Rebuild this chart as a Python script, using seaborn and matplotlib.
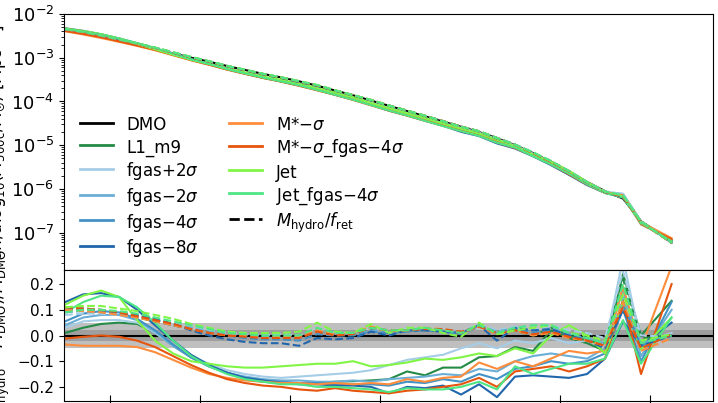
import matplotlib
matplotlib.use('Agg')
import matplotlib.pyplot as plt
import numpy as np
import seaborn as sns
from matplotlib.lines import Line2D

# halo mass bins (log10 M500c) and DMO mass function (log10 dn/dlogM)
x_logm = [12.25, 12.35, 12.45, 12.55, 12.65, 12.75, 12.85, 12.95, 13.05, 13.15,
          13.25, 13.35, 13.45, 13.55, 13.65, 13.75, 13.85, 13.95, 14.05, 14.15,
          14.25, 14.35, 14.45, 14.55, 14.65, 14.75, 14.85, 14.95, 15.05, 15.15,
          15.25, 15.35, 15.45, 15.62]
dmo_log10 = [-2.38, -2.45, -2.53, -2.62, -2.71, -2.80, -2.90, -3.00, -3.09, -3.19,
             -3.28, -3.37, -3.45, -3.54, -3.64, -3.75, -3.86, -3.98, -4.10, -4.22,
             -4.34, -4.46, -4.58, -4.70, -4.84, -5.00, -5.18, -5.38, -5.60, -5.84,
             -6.05, -6.22, -6.74, -7.23]

# relative difference (M_hydro - M_DMO)/M_DMO, hydro runs
res_l1_m9 = [0.01, 0.03, 0.045, 0.05, 0.045, 0.01, -0.04, -0.085, -0.12, -0.145,
             -0.17, -0.18, -0.185, -0.188, -0.185, -0.18, -0.178, -0.175, -0.17, -0.14,
             -0.155, -0.125, -0.125, -0.085, -0.08, -0.045, -0.06, 0.02, -0.01, -0.03,
             -0.06, 0.24, 0.0, 0.135]
res_fgas_p2 = [0.03, 0.055, 0.06, 0.06, 0.05, 0.01, -0.04, -0.08, -0.11, -0.135,
               -0.15, -0.16, -0.165, -0.16, -0.155, -0.15, -0.145, -0.135, -0.115, -0.095,
               -0.085, -0.075, -0.05, -0.03, -0.05, -0.02, -0.03, -0.01, -0.03, -0.02,
               -0.04, 0.30, -0.03, 0.01]
res_fgas_m2 = [0.04, 0.07, 0.08, 0.08, 0.06, 0.015, -0.04, -0.085, -0.12, -0.145,
               -0.16, -0.17, -0.175, -0.175, -0.18, -0.18, -0.175, -0.18, -0.17, -0.165,
               -0.16, -0.15, -0.155, -0.13, -0.14, -0.10, -0.08, -0.07, -0.08, -0.09,
               -0.05, 0.18, -0.08, 0.10]
res_fgas_m4 = [0.055, 0.085, 0.095, 0.09, 0.065, 0.02, -0.035, -0.085, -0.12, -0.145,
               -0.165, -0.175, -0.18, -0.185, -0.185, -0.19, -0.19, -0.19, -0.195, -0.18,
               -0.185, -0.17, -0.18, -0.15, -0.17, -0.13, -0.12, -0.10, -0.11, -0.10,
               -0.07, 0.10, -0.10, 0.13]
res_fgas_m8 = [0.13, 0.16, 0.165, 0.15, 0.10, 0.04, -0.02, -0.075, -0.115, -0.145,
               -0.165, -0.175, -0.185, -0.19, -0.19, -0.195, -0.195, -0.20, -0.225, -0.20,
               -0.205, -0.195, -0.23, -0.19, -0.24, -0.16, -0.155, -0.16, -0.165, -0.15,
               -0.09, 0.055, -0.04, 0.05]
res_mstar_m = [-0.035, -0.04, -0.04, -0.04, -0.045, -0.065, -0.095, -0.125, -0.15, -0.165,
               -0.175, -0.18, -0.185, -0.185, -0.19, -0.185, -0.19, -0.185, -0.19, -0.17,
               -0.18, -0.165, -0.16, -0.105, -0.13, -0.10, -0.12, -0.09, -0.06, -0.07,
               -0.06, 0.19, -0.05, 0.27]
res_mstar_fgas = [-0.012, -0.005, 0.0, -0.005, -0.02, -0.045, -0.08, -0.115, -0.145, -0.17,
                  -0.185, -0.195, -0.20, -0.21, -0.215, -0.205, -0.215, -0.22, -0.225, -0.215,
                  -0.21, -0.20, -0.19, -0.165, -0.20, -0.14, -0.13, -0.12, -0.14, -0.12,
                  -0.09, 0.14, -0.15, 0.20]
res_jet = [0.12, 0.155, 0.175, 0.15, 0.06, -0.02, -0.07, -0.10, -0.11, -0.12,
           -0.125, -0.125, -0.12, -0.115, -0.11, -0.11, -0.10, -0.12, -0.115, -0.105,
           -0.09, -0.095, -0.085, -0.07, -0.08, -0.05, -0.07, 0.0, 0.04, 0.0,
           -0.07, 0.13, -0.055, 0.07]
res_jet_fgas = [0.09, 0.13, 0.155, 0.15, 0.11, 0.05, -0.02, -0.08, -0.12, -0.15,
                -0.17, -0.18, -0.19, -0.19, -0.20, -0.20, -0.205, -0.21, -0.22, -0.205,
                -0.21, -0.21, -0.20, -0.18, -0.21, -0.12, -0.15, -0.13, -0.11, -0.11,
                -0.09, 0.06, -0.11, 0.07]

# same, after correcting hydro masses by retained fraction (M_hydro / f_ret)
ret_l1_m9 = [0.10, 0.10, 0.095, 0.085, 0.07, 0.055, 0.04, 0.025, 0.01, 0.005,
             0.0, -0.005, 0.0, 0.0, 0.02, 0.005, 0.01, 0.025, 0.01, 0.02,
             0.025, 0.02, 0.005, 0.04, 0.01, 0.02, 0.0, 0.03, 0.0, -0.02,
             -0.03, 0.22, -0.01, 0.0]
ret_fgas_p2 = [0.08, 0.085, 0.085, 0.08, 0.07, 0.06, 0.045, 0.03, 0.02, 0.01,
               0.005, 0.0, 0.005, 0.0, 0.025, 0.01, 0.01, 0.03, 0.015, 0.025,
               0.03, 0.025, 0.015, 0.045, 0.02, 0.035, 0.02, 0.04, 0.02, 0.01,
               -0.01, 0.25, 0.0, -0.005]
ret_fgas_m2 = [0.09, 0.095, 0.09, 0.085, 0.075, 0.06, 0.045, 0.03, 0.015, 0.005,
               0.0, -0.005, -0.005, -0.01, 0.015, 0.005, 0.005, 0.02, 0.015, 0.02,
               0.025, 0.015, 0.01, 0.04, 0.015, 0.03, 0.01, 0.03, 0.005, -0.01,
               -0.03, 0.15, -0.03, 0.0]
ret_fgas_m4 = [0.10, 0.10, 0.095, 0.09, 0.075, 0.06, 0.04, 0.025, 0.01, 0.0,
               -0.01, -0.015, -0.015, -0.02, 0.005, 0.0, 0.0, 0.015, 0.01, 0.015,
               0.02, 0.015, 0.005, 0.035, 0.01, 0.025, 0.01, 0.02, 0.0, -0.015,
               -0.04, 0.12, -0.04, 0.005]
ret_fgas_m8 = [0.11, 0.105, 0.10, 0.09, 0.08, 0.065, 0.045, 0.02, 0.0, -0.015,
               -0.025, -0.03, -0.03, -0.04, -0.01, -0.015, -0.01, 0.015, 0.0, 0.02,
               0.02, 0.015, 0.01, 0.04, -0.02, 0.03, 0.02, 0.025, 0.0, -0.02,
               -0.05, 0.10, -0.04, 0.0]
ret_mstar_m = [0.10, 0.095, 0.09, 0.08, 0.07, 0.055, 0.04, 0.025, 0.01, 0.0,
               0.0, -0.01, -0.005, -0.005, 0.02, 0.005, 0.01, 0.035, 0.015, 0.02,
               0.03, 0.025, 0.01, 0.035, 0.005, 0.02, 0.0, 0.01, -0.01, -0.02,
               -0.04, 0.13, -0.06, -0.01]
ret_mstar_fgas = [0.11, 0.105, 0.10, 0.09, 0.075, 0.06, 0.045, 0.025, 0.01, 0.0,
                  -0.005, -0.01, -0.01, -0.01, 0.015, 0.0, 0.005, 0.03, 0.02, 0.02,
                  0.025, 0.025, 0.015, 0.035, 0.01, 0.02, 0.005, 0.015, -0.005, -0.02,
                  -0.04, 0.11, -0.05, 0.005]
ret_jet = [0.11, 0.115, 0.115, 0.105, 0.095, 0.08, 0.065, 0.045, 0.03, 0.015,
           0.01, 0.01, 0.01, 0.015, 0.05, 0.015, 0.01, 0.045, 0.01, 0.03,
           0.03, 0.01, -0.005, 0.05, 0.005, 0.02, 0.03, 0.04, 0.01, 0.0,
           -0.02, 0.16, -0.02, 0.005]
ret_jet_fgas = [0.09, 0.10, 0.10, 0.095, 0.085, 0.07, 0.055, 0.04, 0.025, 0.01,
                0.005, 0.0, 0.0, 0.0, 0.03, 0.01, 0.01, 0.03, 0.02, 0.02,
                0.03, 0.02, 0.01, 0.04, 0.01, 0.03, 0.04, 0.04, 0.01, -0.01,
                -0.03, 0.20, -0.03, 0.0]

labels = ['L1_m9', 'fgas+2$\\sigma$', 'fgas\u22122$\\sigma$', 'fgas\u22124$\\sigma$',
          'fgas\u22128$\\sigma$', 'M*\u2212$\\sigma$', 'M*\u2212$\\sigma$_fgas\u22124$\\sigma$',
          'Jet', 'Jet_fgas\u22124$\\sigma$']
colors = ['#238b45', '#a6cde6', '#6baed6', '#4292c6', '#2166ac',
          '#fd8d3c', '#e6550d', '#80f545', '#4ee685']
res_solid = [res_l1_m9, res_fgas_p2, res_fgas_m2, res_fgas_m4, res_fgas_m8,
             res_mstar_m, res_mstar_fgas, res_jet, res_jet_fgas]
res_ret = [ret_l1_m9, ret_fgas_p2, ret_fgas_m2, ret_fgas_m4, ret_fgas_m8,
           ret_mstar_m, ret_mstar_fgas, ret_jet, ret_jet_fgas]

x = np.array(x_logm)
n_dmo = 10 ** np.array(dmo_log10)

W, H = 718, 403
fig = plt.figure(figsize=(W / 100, H / 100), dpi=100)
ax_top = fig.add_axes([64 / W, 133 / H, 649 / W, 256 / H])
ax_bot = fig.add_axes([64 / W, 2 / H, 649 / W, 131 / H], sharex=ax_top)

# top: mass functions
sns.lineplot(x=x, y=n_dmo, ax=ax_top, color='k', linewidth=1.5)
for res, c in zip(res_solid, colors):
    sns.lineplot(x=x, y=n_dmo * (1 + np.array(res)), ax=ax_top, color=c, linewidth=1.5)
for res, c in zip(res_ret, colors):
    sns.lineplot(x=x, y=n_dmo * (1 + np.array(res)), ax=ax_top, color=c,
                 linewidth=1.5, linestyle='--')
ax_top.set_yscale('log')
ax_top.set_ylim(1.4e-8, 1e-2)
ax_top.set_xlim(12.244, 15.85)
ax_top.set_xticks([12.5, 13.0, 13.5, 14.0, 14.5, 15.0, 15.5])
ax_top.tick_params(axis='x', labelbottom=False)
ax_top.tick_params(axis='y', labelsize=13)
ax_top.set_ylabel('$dn/d{\\rm log}_{10}(M_{\\rm 500c}/{\\rm M}_{\\odot})\\ [{\\rm Mpc}^{-3}]$',
                  fontsize=12)
ax_top.yaxis.set_label_coords(-0.084, 0.5)

handles = [Line2D([], [], color='k', lw=2)]
handles += [Line2D([], [], color=c, lw=2) for c in colors]
handles += [Line2D([], [], color='k', lw=2, ls='--')]
names = ['DMO'] + labels + ['$M_{\\rm hydro}/f_{\\rm ret}$']
ax_top.legend(handles, names, ncol=2, frameon=False, fontsize=12,
              handleheight=1.3, labelspacing=0.22, columnspacing=1.8,
              loc='upper left', bbox_to_anchor=(0.014, 0.63), borderaxespad=0)

# bottom: relative difference
ax_bot.axhspan(-0.05, 0.05, color='gray', alpha=0.5, lw=0)
ax_bot.axhspan(-0.02, 0.02, color='gray', alpha=0.5, lw=0)
ax_bot.axhline(0, color='k', lw=1.5)
for res, c in zip(res_solid, colors):
    sns.lineplot(x=x, y=res, ax=ax_bot, color=c, linewidth=1.5)
for res, c in zip(res_ret, colors):
    sns.lineplot(x=x, y=res, ax=ax_bot, color=c, linewidth=1.5, linestyle='--')
ax_bot.set_ylim(-0.255, 0.255)
ax_bot.set_yticks([-0.2, -0.1, 0.0, 0.1, 0.2])
ax_bot.tick_params(axis='x', labelbottom=False, direction='inout', length=8)
ax_bot.tick_params(axis='y', labelsize=11)
ax_bot.set_ylabel('$(M_{\\rm hydro}-M_{\\rm DMO})/M_{\\rm DMO}$', fontsize=12)
ax_bot.yaxis.set_label_coords(-0.08, 0.5)
ax_bot.set_xlabel('')

fig.savefig('out.png', dpi=100)
